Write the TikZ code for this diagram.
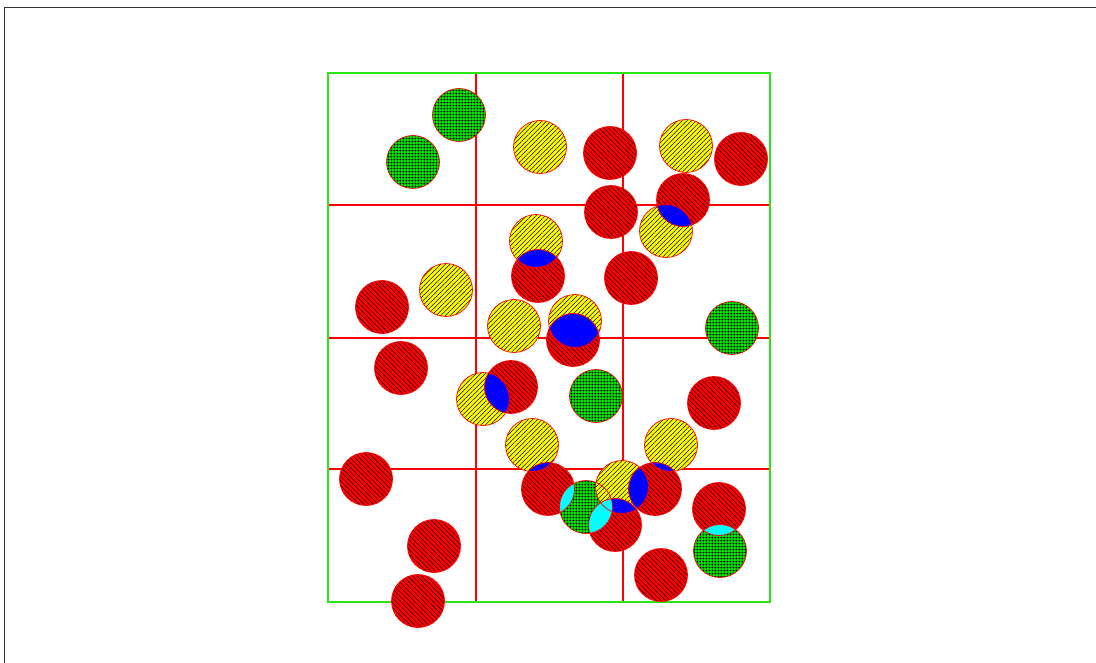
\documentclass[tikz,border=0pt]{standalone}
\usetikzlibrary{patterns,patterns.meta}
\definecolor{ballred}{RGB}{255,0,0}
\definecolor{ballyellow}{RGB}{255,255,0}
\definecolor{ballgreen}{RGB}{0,230,0}
\definecolor{ballblue}{RGB}{0,0,255}
\definecolor{ballcyan}{RGB}{0,255,255}
\definecolor{zonegreen}{RGB}{40,230,20}
\pgfdeclarepatternformonly{ballchecks}{\pgfpointorigin}{\pgfpoint{3.4pt}{3.4pt}}{\pgfpoint{3.4pt}{3.4pt}}{
  \pgfpathcircle{\pgfpoint{1.7pt}{1.7pt}}{1.2pt}
  \pgfusepath{fill}}
\begin{document}
\begin{tikzpicture}[x=1pt,y=-1pt,line width=0.8pt]
\tikzset{
  redball/.style={preaction={fill=ballred},pattern={Lines[angle=-45,distance=3.3pt,line width=0.5pt]},pattern color=black},
  yellowball/.style={preaction={fill=ballyellow},pattern={Lines[angle=45,distance=3.3pt,line width=0.5pt]},pattern color=black},
  greenball/.style={preaction={fill=ballgreen},pattern=ballchecks,pattern color=black},
  rim/.style={draw=ballred,line width=0.7pt},
  gridline/.style={draw=ballred,line width=2pt},
  zone/.style={draw=zonegreen,line width=2pt}
}
\def\rad{26.5pt}
\useasboundingbox (0,0) rectangle (1096,663);
\draw[line width=1pt,black!80] (4,663) -- (4,8) -- (1096,8);

% ---------- grid ----------
\coordinate (NW) at (328,73);
\coordinate (SE) at (770,602);
\foreach \x in {476,623}
  \draw[gridline] (\x,73) -- (\x,602);
\foreach \y in {205,338,469}
  \draw[gridline] (328,\y) -- (770,\y);
\draw[zone] (NW) rectangle (SE);

% ---------- balls ----------
\coordinate (g1) at (459,115);
\coordinate (g2) at (413,162);
\coordinate (g3) at (732,328);
\coordinate (g4) at (596,396);
\coordinate (g5) at (586,507);
\coordinate (g6) at (720,551);

\coordinate (y1) at (540,147);
\coordinate (y2) at (686,146);
\coordinate (y3) at (666,231);
\coordinate (y4) at (536,241);
\coordinate (y5) at (446,290);
\coordinate (y6) at (514,326);
\coordinate (y7) at (575,321);
\coordinate (y8) at (483,399);
\coordinate (y9) at (532,445);
\coordinate (y10) at (671,445);
\coordinate (y11) at (622,487);

\coordinate (r1) at (610,153);
\coordinate (r2) at (741,159);
\coordinate (r3) at (611,212);
\coordinate (r4) at (683,200);
\coordinate (r5) at (538,276);
\coordinate (r6) at (631,278);
\coordinate (r7) at (382,307);
\coordinate (r8) at (573,340);
\coordinate (r9) at (401,368);
\coordinate (r10) at (511,387);
\coordinate (r11) at (714,403);
\coordinate (r12) at (366,479);
\coordinate (r13) at (548,489);
\coordinate (r14) at (655,489);
\coordinate (r15) at (615,525);
\coordinate (r16) at (719,509);
\coordinate (r17) at (434,546);
\coordinate (r18) at (661,575);
\coordinate (r19) at (418,601);

\foreach \g in {1,...,6}
  \path[greenball] (g\g) circle[radius=\rad];
\foreach \g in {1,...,11}
  \path[yellowball] (y\g) circle[radius=\rad];
\foreach \g in {1,...,19}
  \path[redball] (r\g) circle[radius=\rad];

% ---------- overlaps ----------
\foreach \a/\b in {r4/y3,r5/y4,r8/y7,r10/y8,r13/y9,r14/y10,r14/y11,r15/y11}{
  \begin{scope}
    \clip (\a) circle[radius=\rad];
    \fill[ballblue] (\b) circle[radius=\rad];
  \end{scope}
}
\foreach \a/\b in {r13/g5,r15/g5,r16/g6}{
  \begin{scope}
    \clip (\a) circle[radius=\rad];
    \fill[ballcyan] (\b) circle[radius=\rad];
  \end{scope}
}

\foreach \g in {g1,g2,g3,g4,g5,g6,y1,y2,y3,y4,y5,y6,y7,y8,y9,y10,y11,r1,r2,r3,r4,r5,r6,r7,r8,r9,r10,r11,r12,r13,r14,r15,r16,r17,r18,r19}
  \draw[rim] (\g) circle[radius=\rad];

\end{tikzpicture}
\end{document}
